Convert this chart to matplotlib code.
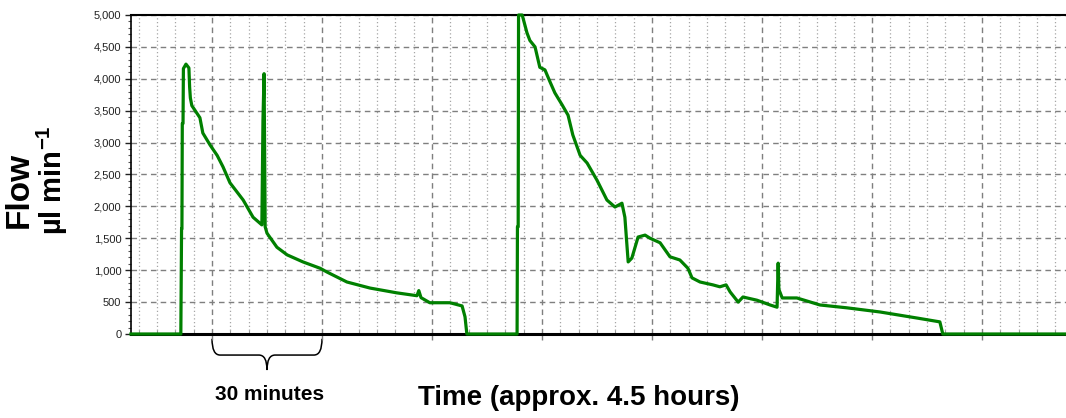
import numpy as np
import matplotlib.pyplot as plt
from matplotlib.path import Path
from matplotlib.patches import PathPatch
from matplotlib.ticker import MultipleLocator, FuncFormatter
import matplotlib.transforms as mtransforms

plt.rcParams['font.family'] = ['Liberation Sans', 'DejaVu Sans']
plt.rcParams['mathtext.fontset'] = 'custom'
plt.rcParams['mathtext.bf'] = 'Liberation Sans:bold'
plt.rcParams['mathtext.rm'] = 'Liberation Sans:bold'

# time in minutes, flow in ul/min
time_min = [7.9, 21.5, 21.7, 21.8, 21.9, 22.1, 22.2, 22.9, 23.7, 23.9, 24.1, 24.5,
            26.7, 27.5, 29.5, 31.4, 33.0, 34.9, 38.5, 41.2, 43.6, 43.9, 44.2, 44.5,
            45.0, 47.7, 50.5, 54.8, 59.5, 61.4, 66.8, 73.1, 80.4, 85.9, 86.4, 87.0,
            89.4, 94.9, 98.2, 99.0, 99.5,
            113.2, 113.3, 113.5, 113.6, 114.6, 115.9, 116.7, 118.1, 119.4, 120.8,
            122.2, 123.5, 125.5, 127.1, 128.4, 130.4, 132.3, 135.0, 137.7, 139.9,
            141.8, 142.6, 143.2, 143.5, 144.5, 146.2, 148.1, 149.5, 152.2, 154.9,
            157.6, 159.8, 160.9, 163.1, 166.6, 168.5, 170.2, 171.3, 173.5, 174.8,
            178.6, 182.2, 184.1, 184.4, 184.6, 185.5, 189.5, 195.8, 203.2, 212.2,
            222.3, 228.5, 229.3, 262.9]
flow = [0, 0, 1650, 1650, 3300, 3300, 4160, 4230, 4170, 3870, 3700, 3580,
        3390, 3150, 2960, 2800, 2620, 2370, 2100, 1830, 1710, 3350, 4080, 1680,
        1580, 1360, 1240, 1130, 1030, 970, 815, 720, 645, 600, 680, 570,
        490, 490, 440, 270, 0,
        0, 1680, 1680, 5000, 5000, 4720, 4600, 4500, 4180, 4140,
        3950, 3780, 3590, 3430, 3120, 2800, 2680, 2410, 2100, 1990,
        2050, 1830, 1360, 1130, 1190, 1520, 1550, 1500, 1430, 1210,
        1160, 1030, 880, 815, 770, 740, 770, 660, 500, 580,
        530, 455, 420, 1110, 700, 565, 565, 455, 410, 345,
        250, 190, 0, 0]

brace_span = (30, 60)

fig = plt.figure(figsize=(10.66, 4.18), dpi=100)
ax = fig.add_axes([131 / 1066, 84 / 418, 935 / 1066, 319 / 418])

ax.plot(time_min, flow, color='#008000', linewidth=2.3, zorder=5, clip_on=False)

ax.set_xlim(7.91, 262.9)
ax.set_ylim(0, 5000)

ax.xaxis.set_major_locator(MultipleLocator(30))
ax.xaxis.set_minor_locator(MultipleLocator(5))
ax.yaxis.set_major_locator(MultipleLocator(500))
ax.yaxis.set_minor_locator(MultipleLocator(100))
ax.yaxis.set_major_formatter(FuncFormatter(lambda v, p: f'{v:,.0f}'))
ax.set_xticklabels([])

ax.grid(which='major', axis='both', color='#7f7f7f', linestyle=(0, (4, 3)), linewidth=1)
ax.grid(which='minor', axis='x', color='#a6a6a6', linestyle=(0, (1, 2)), linewidth=0.9)

ax.tick_params(axis='y', which='major', length=4, width=1, labelsize=8, colors='#222222', pad=3)
ax.tick_params(axis='y', which='minor', length=2, width=0.8, color='#555555')
ax.tick_params(axis='x', which='major', direction='out', length=4, width=1, color='#7f7f7f')
ax.tick_params(axis='x', which='minor', direction='in', length=3, width=0.8, color='#9a9a9a')

ax.spines['right'].set_visible(False)
ax.spines['top'].set_linewidth(1.5)
ax.spines['bottom'].set_linewidth(2.2)
ax.spines['left'].set_linewidth(1.2)
for s in ('top', 'bottom', 'left'):
    ax.spines[s].set_color('black')

# curly brace under one 30 minute interval
trans = mtransforms.blended_transform_factory(ax.transData, ax.transAxes)
x0, x1 = brace_span
xm = (x0 + x1) / 2
yt, ya, yp = -0.015, -0.066, -0.113
r = 2.2
verts = [(x0, yt), (x0, ya), (x0 + r, ya), (xm - r, ya), (xm, ya), (xm, yp),
         (xm, ya), (xm + r, ya), (x1 - r, ya), (x1, ya), (x1, yt)]
codes = [Path.MOVETO, Path.CURVE3, Path.CURVE3, Path.LINETO, Path.CURVE3, Path.CURVE3,
         Path.CURVE3, Path.CURVE3, Path.LINETO, Path.CURVE3, Path.CURVE3]
ax.add_patch(PathPatch(Path(verts, codes), transform=trans, facecolor='none',
                       edgecolor='black', linewidth=1.1, clip_on=False))

fig.text(269.5 / 1066, 18 / 418, '30 minutes', ha='center', va='baseline',
         fontsize=15, fontweight='bold')
fig.text(579 / 1066, 13 / 418, 'Time (approx. 4.5 hours)', ha='center', va='baseline',
         fontsize=20, fontweight='bold')

fig.text(28 / 1066, 1 - 190 / 418, 'Flow', rotation=90, rotation_mode='anchor',
         ha='center', va='baseline', fontsize=24, fontweight='bold')
fig.text(62 / 1066, 1 - 180 / 418, r'µl min$\mathbf{^{-1}}$', rotation=90,
         rotation_mode='anchor', ha='center', va='baseline', fontsize=21, fontweight='bold')

fig.savefig('out.png', dpi=100)
